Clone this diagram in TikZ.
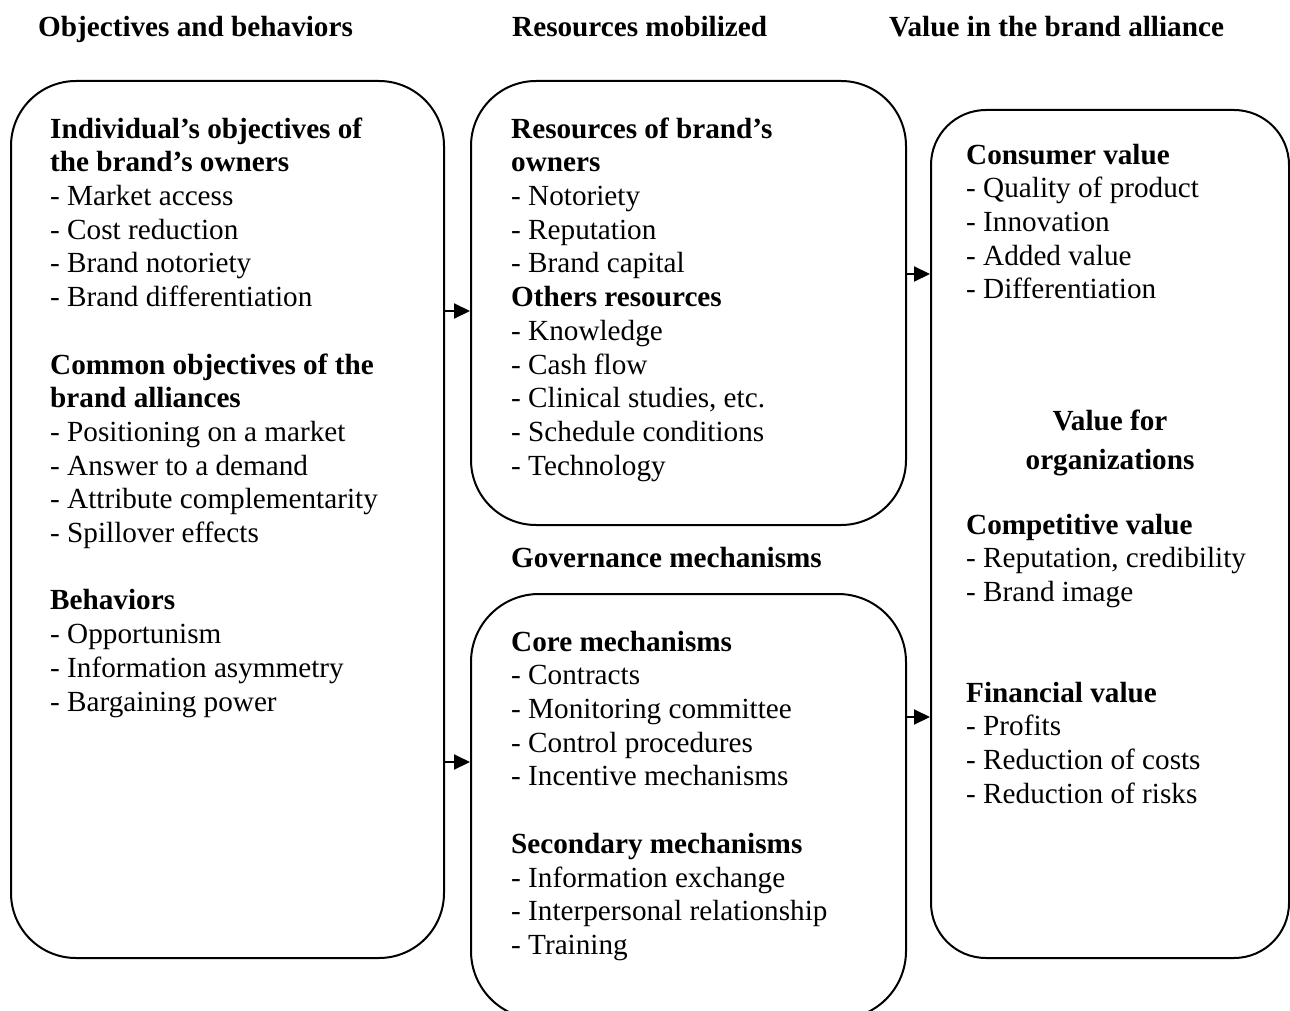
\documentclass[tikz,border=0pt]{standalone}
\usepackage{fontspec}
\setmainfont{Liberation Serif}
\usetikzlibrary{arrows.meta}
\tikzset{
  box/.style={draw, line width=2pt, rectangle, anchor=north west, inner sep=0pt},
  txt/.style={anchor=north west, inner sep=0pt, align=left, font=\fontsize{29.2}{33.7}\selectfont},
  head/.style={anchor=base west, inner sep=0pt, font=\fontsize{29.2}{33.7}\selectfont\bfseries},
  arr/.style={line width=2pt, -{Triangle[length=16pt,width=15pt]}}
}
\begin{document}
\begin{tikzpicture}[x=1pt,y=-1pt]
\clip (0,0) rectangle (1290,1011);
\useasboundingbox (0,0) rectangle (1290,1011);
% column headings
\node[head] (h1) at (38,37) {Objectives and behaviors};
\node[head] (h2) at (512,37) {Resources mobilized};
\node[head] (h3) at (889,37) {Value in the brand alliance};
% boxes
\node[box, rounded corners=65pt, minimum width=433pt, minimum height=877pt] (L) at (10,80) {};
\node[box, rounded corners=65pt, minimum width=435pt, minimum height=444pt] (MT) at (470,80) {};
\node[box, rounded corners=68pt, minimum width=435pt, minimum height=425pt] (MB) at (470,593) {};
\node[box, rounded corners=55pt, minimum width=358pt, minimum height=848pt] (R) at (930,109) {};
% left text
\node[txt] (ltext) at (50,114.4) {\strut\textbf{Individual’s objectives of}\\
\textbf{the brand’s owners}\\
- Market access\\
- Cost reduction\\
- Brand notoriety\\
- Brand differentiation\\[33.7pt]
\textbf{Common objectives of the}\\
\textbf{brand alliances}\\
- Positioning on a market\\
- Answer to a demand\\
- Attribute complementarity\\
- Spillover effects\\[33.7pt]
\textbf{Behaviors}\\
- Opportunism\\
- Information asymmetry\\
- Bargaining power};
% middle top text
\node[txt] (mttext) at (511,114.4) {\strut\textbf{Resources of brand’s}\\
\textbf{owners}\\
- Notoriety\\
- Reputation\\
- Brand capital\\
\textbf{Others resources}\\
- Knowledge\\
- Cash flow\\
- Clinical studies, etc.\\
- Schedule conditions\\
- Technology};
\node[head] (gov) at (511,567) {Governance mechanisms};
% middle bottom text
\node[txt] (mbtext) at (511,627.4) {\strut\textbf{Core mechanisms}\\
- Contracts\\
- Monitoring committee\\
- Control procedures\\
- Incentive mechanisms\\[33.7pt]
\textbf{Secondary mechanisms}\\
- Information exchange\\
- Interpersonal relationship\\
- Training};
% right text
\node[txt] (rt1) at (966,140.4) {\strut\textbf{Consumer value}\\
- Quality of product\\
- Innovation\\
- Added value\\
- Differentiation};
\node[anchor=north, inner sep=0pt, align=center, font=\fontsize{29.2}{39}\selectfont\bfseries] (vorg) at (1110,402.7) {\strut Value for\\organizations};
\node[txt] (rt2) at (966,510.4) {\strut\textbf{Competitive value}\\
- Reputation, credibility\\
- Brand image};
\node[txt] (rt3) at (966,678.4) {\strut\textbf{Financial value}\\
- Profits\\
- Reduction of costs\\
- Reduction of risks};
% connectors
\coordinate (a1) at (0,311);
\coordinate (a2) at (0,762);
\coordinate (a3) at (0,274);
\coordinate (a4) at (0,717);
\draw[arr] (L.east |- a1) -- (MT.west |- a1);
\draw[arr] (L.east |- a2) -- (MB.west |- a2);
\draw[arr] (MT.east |- a3) -- (R.west |- a3);
\draw[arr] (MB.east |- a4) -- (R.west |- a4);
\end{tikzpicture}
\end{document}
